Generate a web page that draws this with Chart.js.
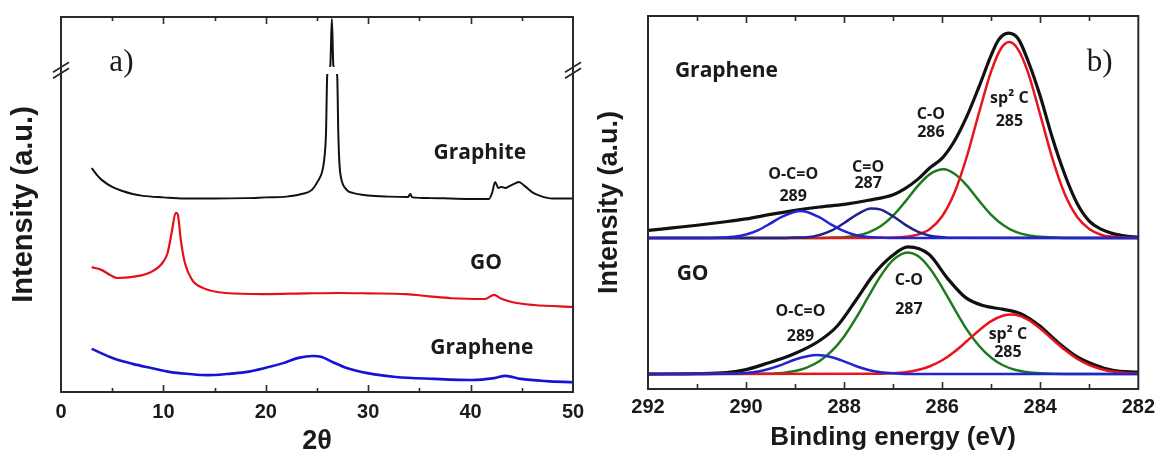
<!DOCTYPE html>
<html><head><meta charset="utf-8">
<script src="https://cdn.jsdelivr.net/npm/chart.js@4.4.1/dist/chart.umd.min.js"></script>
<style>
html,body{margin:0;padding:0;background:#fff;width:1161px;height:455px;overflow:hidden}
#wa{position:absolute;left:0;top:0;width:600px;height:455px}
#wb{position:absolute;left:580px;top:0;width:581px;height:455px}
</style></head><body>
<div id="wa"><canvas id="ca" width="600" height="455"></canvas></div>
<div id="wb"><canvas id="cb" width="581" height="455"></canvas></div>
<script>
// ---------- Panel a) XRD ----------
const xrdTicks = [0, 10, 20, 30, 40, 50];
const graphiteX = [3.0,3.5,4.0,5.0,6.0,7.0,8.0,10,12,15,18,20,22,23.5,24.5,25.1,25.5,25.7,25.88,26.0,26.3,26.45,26.6,26.97,27.08,27.2,27.35,27.9,28.5,30,32,33.9,34.1,34.3,36,38,40,41.8,42.1,42.4,42.7,43.0,43.4,43.8,44.4,44.7,45.3,46.0,46.8,48,50];
const graphiteY = [59.7,57.9,56.5,54.7,53.6,52.8,52.3,51.9,51.6,51.6,51.7,51.9,52.1,52.8,53.9,56.3,58.7,61.9,69.1,84.5,87.0,99.5,87.0,84.5,69.1,60.5,57.1,53.9,53.1,52.4,52.1,52.0,52.8,51.9,51.7,51.6,51.5,51.5,53.1,56.0,54.4,54.7,54.4,54.9,55.7,56.0,54.9,53.3,52.3,51.6,51.6];
const goX = [3.0,4.0,4.8,5.5,7.0,8.8,9.9,10.4,10.8,11.2,11.4,11.7,12.1,12.8,13.9,16.1,19.8,24,27.1,30,33.7,36,38.1,41.4,42.3,42.9,44.0,46.2,50];
const goY = [33.3,32.5,31.2,30.4,30.7,32.0,34.4,37.0,42.4,47.8,47.4,40.5,34.4,29.9,27.7,26.4,26.1,26.3,26.4,26.3,26.1,25.5,25.0,24.8,25.9,25.0,24.0,23.2,22.7];
const grapheneXrdX = [3.0,5.1,7.0,8.8,10.7,12.5,14.3,16.2,18.0,19.9,21.7,23.2,24.6,25.4,26.5,27.9,29.8,32.7,36.4,40.1,42.3,43.4,44.9,47.4,50];
const grapheneXrdY = [11.5,9.0,7.5,6.4,5.3,4.8,4.5,4.8,5.3,6.4,7.7,9.1,9.6,9.4,8.0,6.4,5.1,4.0,3.5,3.2,3.7,4.3,3.5,2.9,2.6];
const xrdLabels = ['Graphite', 'GO', 'Graphene'];
const xrdLabelX = [40.9, 41.5, 41.1];
const xrdLabelY = [63.7, 34.4, 11.7];

// ---------- Panel b) XPS C1s ----------
const xpsTicks = [292, 290, 288, 286, 284, 282];
// Graphene (upper)
const grEnvX = [292,291.5,291,290.5,290,289.5,289,288.5,288,287.5,287,286.75,286.5,286.25,286,285.75,285.5,285.25,285,284.85,284.65,284.45,284.25,284,283.75,283.5,283.25,283,282.75,282.5,282.25,282];
const grEnvY = [42.5,43.2,43.9,44.7,45.6,46.8,47.9,48.8,49.5,50.6,52.1,53.8,56.2,59.3,61.9,66.5,73.0,81.0,89.5,93.6,95.4,93.9,88.0,78.5,67.2,57.5,49.8,45.0,42.8,41.6,41.0,40.7];
const grSp2X = [292,287.5,287,286.75,286.5,286.25,286,285.75,285.5,285.25,285,284.8,284.63,284.45,284.25,284,283.75,283.5,283.25,283,282.75,282.5,282.25,282];
const grSp2Y = [40.5,40.5,40.6,40.8,41.4,42.9,46.3,52.6,62.2,74.0,85.2,91.3,93.0,91.0,84.9,73.5,61.7,52.3,46.2,42.9,41.3,40.8,40.6,40.5];
const grCOX = [292,288.5,288.25,288,287.75,287.5,287.25,287,286.75,286.5,286.25,285.97,285.75,285.5,285.25,285,284.75,284.5,284.25,284,283.5,282];
const grCOY = [40.5,40.5,40.6,40.7,41.1,42.0,43.7,46.5,50.3,54.4,57.6,58.9,57.7,54.6,50.5,46.7,43.9,42.1,41.2,40.8,40.5,40.5];
const grC2OX = [292,289.25,289,288.75,288.5,288.25,288,287.75,287.45,287.25,287,286.75,286.5,286.25,286,285.75,282];
const grC2OY = [40.5,40.5,40.6,40.7,41.3,42.5,44.5,46.7,48.4,48.1,46.3,44.0,42.2,41.1,40.7,40.55,40.5];
const grOCOX = [292,290.75,290.5,290.25,290,289.75,289.5,289.25,288.88,288.5,288.25,288,287.75,287.5,287.25,287,282];
const grOCOY = [40.5,40.5,40.6,40.8,41.4,42.6,44.4,46.3,47.7,46.0,44.0,42.3,41.2,40.75,40.6,40.5,40.5];
// GO (lower)
const goEnvX = [292,291,290.4,290,289.64,289.04,288.52,288.14,287.77,287.39,287.02,286.7,286.27,285.9,285.52,285.15,284.77,284.4,284.02,283.65,283.27,282.9,282.52,282];
const goEnvY = [4.0,4.1,4.4,5.2,6.6,9.3,12.8,16.9,23.6,30.8,35.7,38.1,36.1,29.8,24.5,22.3,21.4,20.2,17.0,12.6,8.8,6.5,5.0,4.5];
const goCOX = [292,289.5,289,288.75,288.5,288.25,288,287.75,287.5,287.25,287,286.7,286.5,286.25,286,285.75,285.5,285.25,285,284.75,284.5,284.25,284,283.5,282];
const goCOY = [4.0,4.1,4.8,5.8,7.5,10.2,14.1,19.2,24.9,30.4,34.6,36.6,35.7,32.3,27.2,21.5,16.0,11.6,8.4,6.3,5.1,4.5,4.2,4.0,4.0];
const goSp2X = [292,287.25,287,286.75,286.5,286.25,286,285.75,285.5,285.25,285,284.75,284.6,284.5,284.25,284,283.75,283.5,283.25,283,282.75,282.5,282.25,282];
const goSp2Y = [4.0,4.1,4.2,4.5,5.1,6.1,7.7,10.0,12.8,15.7,18.2,19.7,20.0,19.9,18.6,16.2,13.3,10.5,8.1,6.4,5.3,4.6,4.3,4.1];
const goOCOX = [292,290.25,290,289.75,289.5,289.25,289,288.75,288.55,288.25,288,287.75,287.5,287.25,287,286.75,282];
const goOCOY = [4.0,4.1,4.3,4.7,5.5,6.6,7.9,8.8,9.1,8.5,7.4,6.1,5.1,4.5,4.2,4.05,4.0];
const xpsLabels = ['Graphene','GO','O-C=O','289','C=O','287','C-O','286','sp\u00B2 C','285','C-O','287','O-C=O','289','sp\u00B2 C','285'];
const xpsLabelX = [290.40,291.09,289.04,289.04,287.51,287.51,286.23,286.23,284.63,284.63,286.68,286.68,288.89,288.89,284.66,284.66];
const xpsLabelY = [85.3,30.8,57.6,51.7,59.5,55.0,73.7,68.9,78.0,71.6,29.0,21.4,20.9,14.2,14.7,9.7];

// ---------- helpers ----------
const pts = (xs, ys) => xs.map((x, i) => ({x, y: ys[i]}));
const line = (xs, ys, color, w) => ({data: pts(xs, ys), borderColor: color, borderWidth: w, pointRadius: 0, fill: false, cubicInterpolationMode: 'monotone'});
const TXT = '#1a1a1a';

const framePlugin = {
  id: 'frame',
  afterDatasetsDraw(chart, args, o) {
    const {ctx, chartArea: a} = chart;
    const x = chart.scales.x, y = chart.scales.y;
    ctx.save();
    if (o.gap) {
      const y1 = y.getPixelForValue(o.gap[1]), y0 = y.getPixelForValue(o.gap[0]);
      ctx.fillStyle = '#fff';
      ctx.fillRect(a.left + 2, y1, a.right - a.left - 4, y0 - y1);
    }
    ctx.strokeStyle = '#2a2a2a';
    ctx.lineWidth = 2;
    ctx.strokeRect(a.left, a.top, a.right - a.left, a.bottom - a.top);
    ctx.lineWidth = 1.6;
    const lo = Math.min(x.min, x.max), hi = Math.max(x.min, x.max);
    for (let v = lo + o.minor; v < hi - 1e-9; v += o.minor) {
      const px = Math.round(x.getPixelForValue(v)) + 0.5;
      const major = Math.abs(v / o.major - Math.round(v / o.major)) < 1e-6;
      const L = major ? o.majorLen : o.minorLen;
      ctx.beginPath();
      ctx.moveTo(px, a.bottom); ctx.lineTo(px, a.bottom - L);
      ctx.moveTo(px, a.top); ctx.lineTo(px, a.top + L);
      ctx.stroke();
    }
    if (o.brk != null) {
      const py = y.getPixelForValue(o.brk);
      ctx.lineWidth = 1.8;
      for (const bx of [a.left, a.right]) {
        for (const dy of [-3, 3]) {
          ctx.beginPath();
          ctx.moveTo(bx - 8, py + dy + 5);
          ctx.lineTo(bx + 8, py + dy - 5);
          ctx.stroke();
        }
      }
    }
    ctx.restore();
  }
};

const textPlugin = {
  id: 'texts',
  afterDatasetsDraw(chart, args, o) {
    const {ctx} = chart;
    const x = chart.scales.x, y = chart.scales.y;
    ctx.save();
    ctx.fillStyle = TXT;
    ctx.textAlign = 'center';
    ctx.textBaseline = 'middle';
    o.items.forEach(t => {
      ctx.font = t.font;
      ctx.fillText(t.text, x.getPixelForValue(t.x), y.getPixelForValue(t.y));
    });
    ctx.restore();
  }
};

const tickFont = {family: 'Liberation Sans', size: 20, weight: 'bold'};

// ---------- Chart a ----------
const itemsA = xrdLabels.map((s, i) => ({text: s, x: xrdLabelX[i], y: xrdLabelY[i], font: 'bold 21px "Open Sans"'}));
itemsA.push({text: 'a)', x: 5.9, y: 87.7, font: '31px "Liberation Serif"'});

new Chart(document.getElementById('ca'), {
  type: 'line',
  data: {datasets: [
    line(graphiteX, graphiteY, '#111111', 2),
    line(goX, goY, '#e3101c', 2.2),
    line(grapheneXrdX, grapheneXrdY, '#1414d6', 2.6)
  ]},
  plugins: [framePlugin, textPlugin],
  options: {
    responsive: false, animation: false, devicePixelRatio: 1,
    layout: {padding: {top: 17, right: 27, left: 0, bottom: 0}},
    scales: {
      x: {type: 'linear', min: 0, max: 50,
          afterFit: s => { s.height = 63; },
          afterBuildTicks: s => { s.ticks = xrdTicks.map(v => ({value: v})); },
          grid: {display: false, drawTicks: false}, border: {display: false},
          ticks: {font: tickFont, color: TXT, padding: 8, maxRotation: 0},
          title: {display: true, text: '2\u03B8', color: TXT, font: {family: 'Liberation Sans', size: 27, weight: 'bold', lineHeight: 1}, padding: {top: 0, bottom: 0}}},
      y: {type: 'linear', min: 0, max: 100,
          afterFit: s => { s.width = 61; },
          grid: {display: false, drawTicks: false}, border: {display: false},
          ticks: {display: false},
          title: {display: true, text: 'Intensity (a.u.)', color: TXT, font: {family: 'Liberation Sans', size: 29, weight: 'bold', lineHeight: 1.2}, padding: {top: 7, bottom: 0}}}
    },
    plugins: {
      legend: {display: false}, tooltip: {enabled: false},
      frame: {minor: 5, major: 10, majorLen: 7, minorLen: 4, gap: [84.8, 86.7], brk: 85.8},
      texts: {items: itemsA}
    }
  }
});

// ---------- Chart b ----------
const itemsB = xpsLabels.map((s, i) => ({text: s, x: xpsLabelX[i], y: xpsLabelY[i],
  font: (i < 2 ? 'bold 21px "Open Sans"' : 'bold 16px "Open Sans"')}));
itemsB.push({text: 'b)', x: 282.79, y: 87.4, font: '31px "Liberation Serif"'});

new Chart(document.getElementById('cb'), {
  type: 'line',
  data: {datasets: [
    line(grOCOX, grOCOY, '#2323d2', 2.5),
    line(grC2OX, grC2OY, '#22228c', 2.5),
    line(grSp2X, grSp2Y, '#e8141c', 2.5),
    line(grCOX, grCOY, '#1c7c1c', 2.5),
    line(grEnvX, grEnvY, '#111111', 3.2),
    line(goOCOX, goOCOY, '#2323d2', 2.5),
    line(goSp2X, goSp2Y, '#e8141c', 2.5),
    line(goCOX, goCOY, '#1c7c1c', 2.5),
    line(goEnvX, goEnvY, '#111111', 3.2)
  ]},
  plugins: [framePlugin, textPlugin],
  options: {
    responsive: false, animation: false, devicePixelRatio: 1,
    layout: {padding: {top: 16, right: 18, left: 0, bottom: 0}},
    scales: {
      x: {type: 'linear', min: 282, max: 292, reverse: true,
          afterFit: s => { s.height = 66; },
          afterBuildTicks: s => { s.ticks = xpsTicks.map(v => ({value: v})); },
          grid: {display: false, drawTicks: false}, border: {display: false},
          ticks: {font: tickFont, color: TXT, padding: 6, maxRotation: 0},
          title: {display: true, text: 'Binding energy (eV)', color: TXT, font: {family: 'Liberation Sans', size: 26, weight: 'bold', lineHeight: 1}, padding: {top: 0, bottom: 4}}},
      y: {type: 'linear', min: 0, max: 100,
          afterFit: s => { s.width = 68; },
          grid: {display: false, drawTicks: false}, border: {display: false},
          ticks: {display: false},
          title: {display: true, text: 'Intensity (a.u.)', color: TXT, font: {family: 'Liberation Sans', size: 27, weight: 'bold', lineHeight: 1.2}, padding: {top: 13, bottom: 0}}}
    },
    plugins: {
      legend: {display: false}, tooltip: {enabled: false},
      frame: {minor: 1, major: 2, majorLen: 7, minorLen: 5},
      texts: {items: itemsB}
    }
  }
});
</script>
</body></html>
